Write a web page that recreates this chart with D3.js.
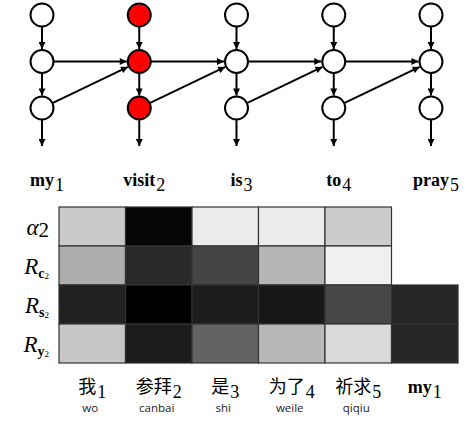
<!DOCTYPE html>
<html>
<head>
<meta charset="utf-8">
<title>Attention</title>
<script src="https://d3js.org/d3.v7.min.js"></script>
<style>
  body { margin: 0; background: #fff; }
</style>
</head>
<body>
<div id="chart"></div>
<script>
// source words (graph columns) and the highlighted word
const srcWords = ["my", "visit", "is", "to", "pray"];
const highlight = 1;
// target tokens under the grid
const tgtWords = ["我", "参拜", "是", "为了", "祈求", "my"];
const tgtIndex = [1, 2, 3, 4, 5, 1];
const pinyin = ["wo", "canbai", "shi", "weile", "qiqiu", ""];
// rows of the grid
const rowNames = ["alpha", "Rc", "Rs", "Ry"];
// darkness of each cell (0 = white, 1 = black), null = empty
const alphaRow = [0.21, 0.98, 0.08, 0.08, 0.2, null];
const rcRow = [0.32, 0.84, 0.73, 0.29, 0.06, null];
const rsRow = [0.87, 1.0, 0.89, 0.91, 0.72, 0.85];
const ryRow = [0.22, 0.89, 0.61, 0.28, 0.15, 0.85];
const cells = [alphaRow, rcRow, rsRow, ryRow];

const W = 465, H = 428;
const svg = d3.select("#chart").append("svg")
  .attr("width", W).attr("height", H);

svg.append("defs").append("marker")
  .attr("id", "ah")
  .attr("viewBox", "0 0 10 10")
  .attr("refX", 10).attr("refY", 5)
  .attr("markerWidth", 8).attr("markerHeight", 7)
  .attr("markerUnits", "userSpaceOnUse")
  .attr("orient", "auto")
  .append("path").attr("d", "M0,0 L10,5 L0,10 z").attr("fill", "#000");

// ---- graph on top ----
const gx = d3.scalePoint().domain(d3.range(srcWords.length)).range([42, 431]);
const gy = d3.scalePoint().domain([0, 1, 2]).range([15, 108]);
const r = 11.5;

function arrow(x1, y1, x2, y2, s1, s2) {
  const dx = x2 - x1, dy = y2 - y1, L = Math.hypot(dx, dy);
  const ux = dx / L, uy = dy / L;
  svg.append("line")
    .attr("x1", x1 + ux * s1).attr("y1", y1 + uy * s1)
    .attr("x2", x2 - ux * s2).attr("y2", y2 - uy * s2)
    .attr("stroke", "#000").attr("stroke-width", 2)
    .attr("marker-end", "url(#ah)");
}

srcWords.forEach((w, i) => {
  const x = gx(i);
  arrow(x, gy(0), x, gy(1), r, r + 1);
  arrow(x, gy(1), x, gy(2), r, r + 1);
  arrow(x, gy(2), x, 146, r, 0);
  if (i < srcWords.length - 1) {
    arrow(x, gy(1), gx(i + 1), gy(1), r, r + 1);
    arrow(x, gy(2), gx(i + 1), gy(1), r, r + 1);
  }
});

const nodes = [];
srcWords.forEach((w, i) => [0, 1, 2].forEach(j => nodes.push({ i, j })));
svg.selectAll("circle.node").data(nodes).enter().append("circle")
  .attr("class", "node")
  .attr("cx", d => gx(d.i)).attr("cy", d => gy(d.j)).attr("r", r)
  .attr("fill", d => d.i === highlight ? "#ff0000" : "#fff")
  .attr("stroke", "#000").attr("stroke-width", 2);

// source word labels
const srcLab = svg.selectAll("text.src").data(srcWords).enter().append("text")
  .attr("class", "src")
  .attr("x", (d, i) => gx(i) + 5).attr("y", 186)
  .attr("text-anchor", "middle")
  .attr("font-family", "Liberation Serif, serif")
  .attr("font-size", 18);
srcLab.append("tspan").attr("font-weight", "bold").text(d => d);
srcLab.append("tspan").attr("dy", 5).attr("dx", 1).text((d, i) => i + 1);

// ---- grid ----
const x = d3.scaleBand().domain(d3.range(tgtWords.length)).range([59, 458]);
const y = d3.scaleBand().domain(rowNames).range([207, 363]);
const gray = d3.scaleLinear().domain([0, 1]).range([255, 0]);

const cellData = [];
cells.forEach((row, ri) => row.forEach((v, ci) => {
  if (v !== null) cellData.push({ r: rowNames[ri], c: ci, v });
}));
svg.selectAll("rect.cell").data(cellData).enter().append("rect")
  .attr("class", "cell")
  .attr("x", d => x(d.c)).attr("y", d => y(d.r))
  .attr("width", x.bandwidth()).attr("height", y.bandwidth())
  .attr("fill", d => { const g = Math.round(gray(d.v)); return `rgb(${g},${g},${g})`; })
  .attr("stroke", "#333").attr("stroke-width", 1.2);

// row labels
const rl = svg.append("g")
  .attr("font-family", "Liberation Serif, serif")
  .attr("text-anchor", "end");
function rowLabel(name, main, sub, subsub) {
  const t = rl.append("text")
    .attr("x", 49).attr("y", y(name) + y.bandwidth() / 2 + 8)
    .attr("font-size", 23);
  t.append("tspan").attr("font-style", "italic").text(main);
  if (subsub) {
    t.append("tspan").attr("font-size", 14).attr("font-weight", "bold").attr("dy", 4).text(sub);
    t.append("tspan").attr("font-size", 9).attr("dy", 1).text(subsub);
  } else {
    t.append("tspan").attr("font-size", 21).attr("dy", 2).text(sub);
  }
}
rowLabel("alpha", "α", "2");
rowLabel("Rc", "R", "c", "2");
rowLabel("Rs", "R", "s", "2");
rowLabel("Ry", "R", "y", "2");

// target labels under grid
const tl = svg.selectAll("text.tgt").data(tgtWords).enter().append("text")
  .attr("class", "tgt")
  .attr("x", (d, i) => x(i) + x.bandwidth() / 2)
  .attr("y", 393)
  .attr("text-anchor", "middle");
tl.append("tspan")
  .attr("font-family", (d, i) => pinyin[i] ? "Noto Sans CJK SC, sans-serif" : "Liberation Serif, serif")
  .attr("font-weight", (d, i) => pinyin[i] ? "normal" : "bold")
  .attr("font-size", 18)
  .text(d => d);
tl.append("tspan")
  .attr("font-family", "Liberation Serif, serif")
  .attr("font-size", 18).attr("dy", 5).attr("dx", 1)
  .text((d, i) => tgtIndex[i]);

svg.selectAll("text.py").data(pinyin).enter().append("text")
  .attr("class", "py")
  .attr("x", (d, i) => x(i) + x.bandwidth() / 2 - 2)
  .attr("y", 412)
  .attr("text-anchor", "middle")
  .attr("font-family", "Open Sans, sans-serif")
  .attr("font-size", 11.5)
  .attr("fill", "#222")
  .text(d => d);
</script>
</body>
</html>
